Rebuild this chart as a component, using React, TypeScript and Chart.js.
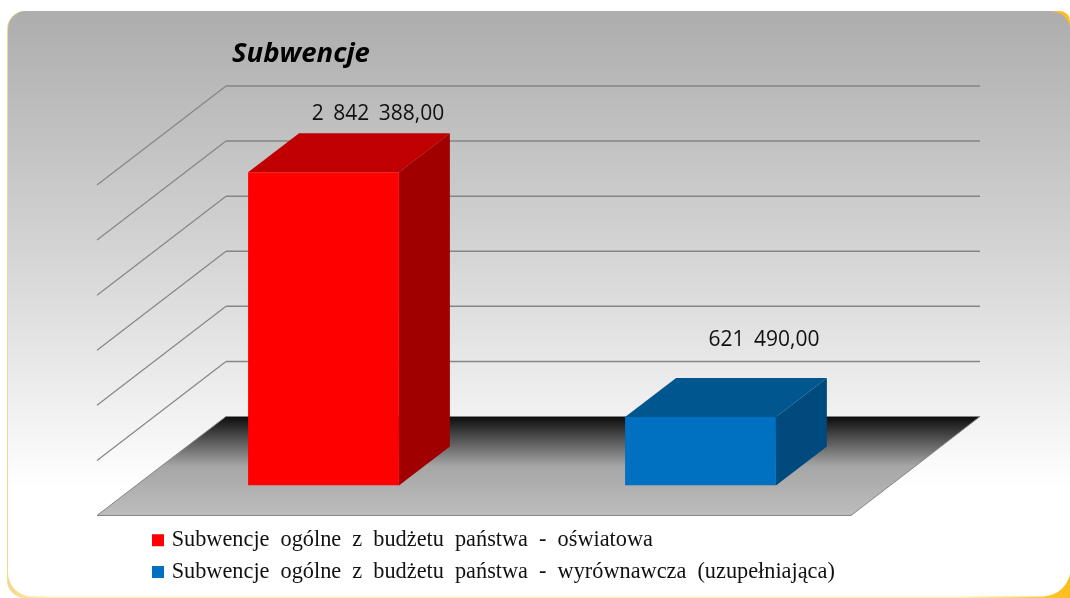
import React, { useEffect, useRef } from "react";
import { Chart, registerables } from "chart.js";

Chart.register(...registerables);

const categories = ["Subwencje"];
const seriesNames = [
  "Subwencje ogólne z budżetu państwa - oświatowa",
  "Subwencje ogólne z budżetu państwa - wyrównawcza (uzupełniająca)",
];
const oswiatowa = [2842388];
const wyrownawcza = [621490];
const titleText = "Subwencje";
const axisMax = 3000000;
const axisStep = 500000;

const FRONT = { dx: -38, dy: 30 };
const BACK = { dx: 91, dy: -69 };
const BAR_DEPTH = { dx: 51, dy: -39 };
const faces = [
  { front: "#ff0000", top: "#c00000", side: "#a00000" },
  { front: "#0070c0", top: "#00568f", side: "#004a7e" },
];
const labelShift = [
  { dx: 54.5, dy: -58 },
  { dx: 63.5, dy: -77 },
];

const fmt = (v: number) =>
  v.toFixed(2).replace(".", ",").replace(/\B(?=(\d{3})+(?!\d))/g, " ");

const poly = (ctx: CanvasRenderingContext2D, pts: number[][], fill?: string | CanvasGradient) => {
  ctx.beginPath();
  pts.forEach(([x, y], i) => (i ? ctx.lineTo(x, y) : ctx.moveTo(x, y)));
  ctx.closePath();
  if (fill) {
    ctx.fillStyle = fill;
    ctx.fill();
  }
};

const scene = {
  id: "scene",
  afterLayout(chart: any) {
    const leg = chart.legend;
    if (leg) {
      leg.left += 11;
      leg.right += 11;
      leg.top += 34;
      leg.bottom += 34;
    }
    const t = chart.titleBlock;
    if (t) {
      t.left += 97;
      t.right += 97;
    }
  },
  beforeDraw(chart: any) {
    const ctx: CanvasRenderingContext2D = chart.ctx;
    ctx.save();
    const edge = ctx.createLinearGradient(7, 0, 1070, 0);
    edge.addColorStop(0, "#f4d888");
    edge.addColorStop(0.04, "#fbeeb8");
    edge.addColorStop(0.9, "#fbeeb8");
    edge.addColorStop(0.98, "#fcc52a");
    edge.addColorStop(1, "#fcbc1c");
    ctx.beginPath();
    ctx.roundRect(7, 11, 1063, 587, [18, 10, 0, 18]);
    ctx.fillStyle = edge;
    ctx.fill();
    const bg = ctx.createLinearGradient(0, 11, 0, 490);
    bg.addColorStop(0, "#adadad");
    bg.addColorStop(0.5, "#d4d4d4");
    bg.addColorStop(1, "#ffffff");
    ctx.beginPath();
    ctx.roundRect(8, 11, 1062.5, 585.5, [18, 20, 28, 24]);
    ctx.fillStyle = bg;
    ctx.fill();
    ctx.restore();
    (ctx as any).wordSpacing = "5.5px";
  },
  beforeDatasetsDraw(chart: any) {
    const ctx: CanvasRenderingContext2D = chart.ctx;
    const { y: ys } = chart.scales;
    const { left, right } = chart.chartArea;
    ctx.save();
    const base = ys.getPixelForValue(0);
    const A = [left + FRONT.dx, base + FRONT.dy];
    const B = [right + FRONT.dx, base + FRONT.dy];
    const C = [right + BACK.dx, base + BACK.dy];
    const D = [left + BACK.dx, base + BACK.dy];
    ys.ticks.forEach((t: any) => {
      if (t.value === 0) return;
      const p = ys.getPixelForValue(t.value);
      ctx.beginPath();
      ctx.moveTo(left + FRONT.dx, p + FRONT.dy);
      ctx.lineTo(left + BACK.dx, p + BACK.dy);
      ctx.strokeStyle = "#868686";
      ctx.lineWidth = 1.2;
      ctx.stroke();
      ctx.beginPath();
      ctx.moveTo(left + BACK.dx, p + BACK.dy);
      ctx.lineTo(right + BACK.dx, p + BACK.dy);
      ctx.strokeStyle = "#858585";
      ctx.lineWidth = 1.5;
      ctx.stroke();
    });
    const g = ctx.createLinearGradient(0, D[1], 0, A[1]);
    g.addColorStop(0, "#0c0c0c");
    g.addColorStop(0.5, "#a6a6a6");
    g.addColorStop(1, "#bdbdbd");
    poly(ctx, [A, B, C, D], g);
    ctx.strokeStyle = "#858585";
    ctx.lineWidth = 1;
    ctx.stroke();
    chart.data.datasets.forEach((_: any, i: number) => {
      chart.getDatasetMeta(i).data.forEach((el: any) => {
        const l = el.x - el.width / 2;
        const r = el.x + el.width / 2;
        const t = el.y;
        const b = el.base;
        const d = BAR_DEPTH;
        poly(ctx, [[l, t], [r, t], [r + d.dx, t + d.dy], [l + d.dx, t + d.dy]], faces[i].top);
        poly(ctx, [[r, t], [r + d.dx, t + d.dy], [r + d.dx, b + d.dy], [r, b]], faces[i].side);
      });
    });
    ctx.restore();
  },
  afterDatasetsDraw(chart: any) {
    const ctx: CanvasRenderingContext2D = chart.ctx;
    ctx.save();
    ctx.fillStyle = "#111111";
    ctx.font = '21px "Open Sans"';
    (ctx as any).wordSpacing = "4px";
    ctx.textAlign = "center";
    ctx.textBaseline = "middle";
    chart.data.datasets.forEach((ds: any, i: number) => {
      const el = chart.getDatasetMeta(i).data[0];
      ctx.fillText(fmt(ds.data[0]), el.x + labelShift[i].dx, el.y + labelShift[i].dy);
    });
    ctx.restore();
  },
  afterDraw(chart: any) {
    (chart.ctx as any).wordSpacing = "0px";
  },
};

export default function App() {
  const ref = useRef<HTMLCanvasElement>(null);
  useEffect(() => {
    const chart = new Chart(ref.current!, {
      type: "bar",
      data: {
        labels: categories,
        datasets: [
          { label: seriesNames[0], data: oswiatowa, backgroundColor: faces[0].front },
          { label: seriesNames[1], data: wyrownawcza, backgroundColor: faces[1].front },
        ],
      },
      options: {
        responsive: false,
        animation: false,
        layout: { padding: { left: 135, right: 181, top: 0, bottom: 38.9 } },
        datasets: { bar: { categoryPercentage: 1, barPercentage: 0.4, borderWidth: 0 } },
        scales: {
          x: { display: false, grid: { display: false } },
          y: {
            display: false,
            min: 0,
            max: axisMax,
            ticks: { stepSize: axisStep },
            grid: { display: false },
          },
        },
        plugins: {
          tooltip: { enabled: false },
          title: {
            display: true,
            text: titleText,
            align: "start",
            color: "#000000",
            font: { family: '"Open Sans"', size: 27.5, weight: "bold", style: "italic", lineHeight: 1.25 },
            padding: { top: 37, bottom: 83.6 },
          },
          legend: {
            display: true,
            position: "bottom",
            align: "start",
            labels: {
              usePointStyle: true,
              pointStyle: "rect",
              boxWidth: 5,
              boxHeight: 12,
              padding: 9.5,
              color: "#111111",
              font: { family: '"Liberation Serif"', size: 22.3 },
            },
          },
        },
      },
      plugins: [scene],
    } as any);
    return () => chart.destroy();
  }, []);
  return (
    <canvas
      ref={ref}
      width={1070}
      height={598}
      style={{ position: "absolute", left: 0, top: 0, width: 1070, height: 598, display: "block" }}
    />
  );
}
